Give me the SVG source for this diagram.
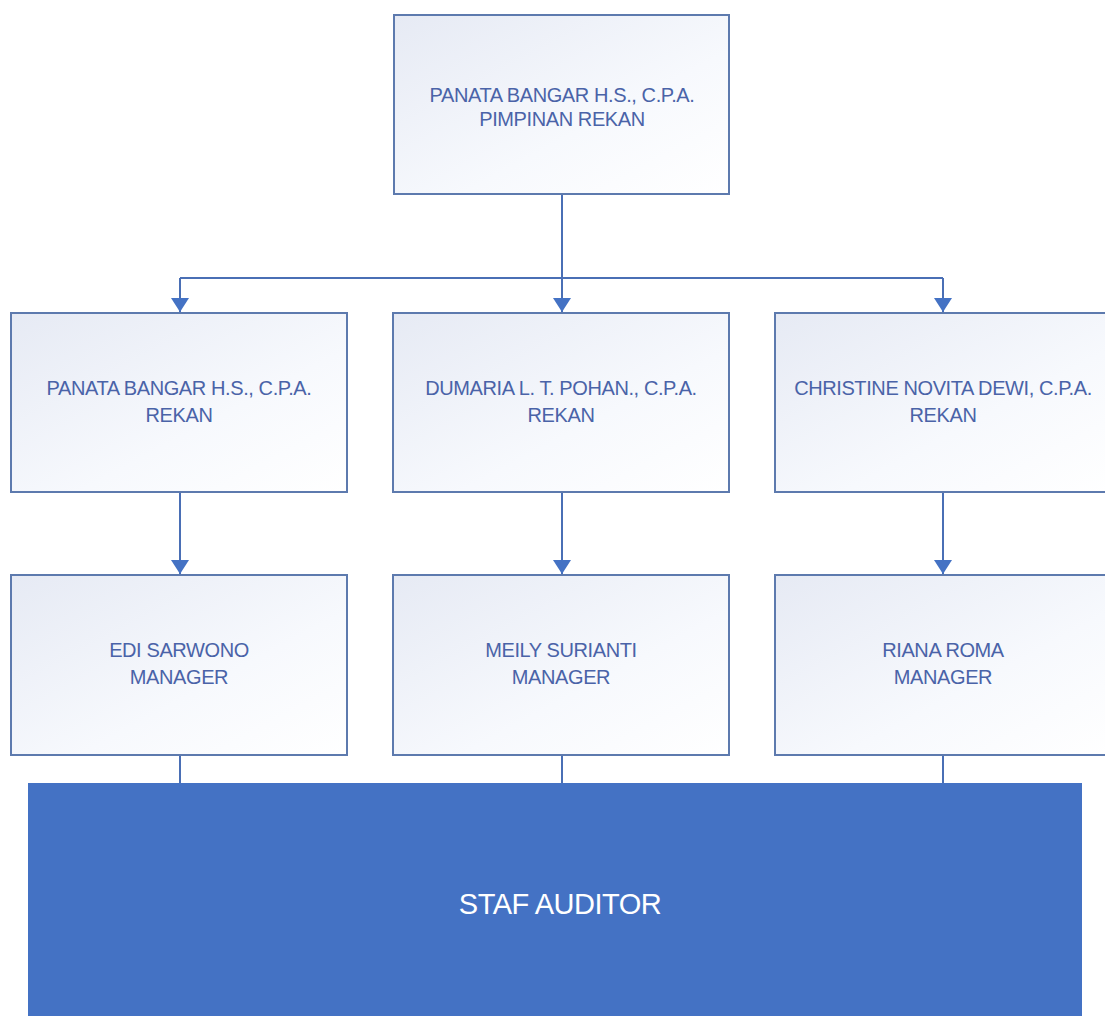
<svg xmlns="http://www.w3.org/2000/svg" width="1105" height="1016" viewBox="0 0 1105 1016">
<style>
.box{fill:url(#g);stroke:#5d7aae;stroke-width:2}
.t{font-family:"Liberation Sans",Arial,sans-serif;font-size:20px;letter-spacing:-0.4px;fill:#4a63a8;text-anchor:middle}
.c{fill:none;stroke:#4a6fb5;stroke-width:2}
</style>
<defs>
<linearGradient id="g" x1="0" y1="0" x2="1" y2="1">
<stop offset="0" stop-color="#e6eaf4"/>
<stop offset="0.6" stop-color="#f7f9fd"/>
<stop offset="1" stop-color="#ffffff"/>
</linearGradient>
<marker id="ah" markerWidth="14" markerHeight="18" refX="14" refY="9" orient="auto" markerUnits="userSpaceOnUse" viewBox="0 0 14 18">
<path d="M0,0 L14,9 L0,18 z" fill="#4472c4"/>
</marker>
</defs>
<rect width="1105" height="1016" fill="#ffffff"/>
<g id="connectors">
<path class="c" d="M562,194 V278"/>
<path class="c" d="M180,278 H943"/>
<path class="c" d="M180,278 V312" marker-end="url(#ah)"/>
<path class="c" d="M562,278 V312" marker-end="url(#ah)"/>
<path class="c" d="M943,278 V312" marker-end="url(#ah)"/>
<path class="c" d="M180,492 V574" marker-end="url(#ah)"/>
<path class="c" d="M562,492 V574" marker-end="url(#ah)"/>
<path class="c" d="M943,492 V574" marker-end="url(#ah)"/>
<path class="c" d="M180,755 V783" stroke-width="1.5"/>
<path class="c" d="M562,755 V783" stroke-width="1.5"/>
<path class="c" d="M943,755 V783" stroke-width="1.5"/>
</g>
<g id="n-top">
<rect class="box" x="394" y="15" width="335" height="179"/>
<text class="t" x="562" y="102">PANATA BANGAR H.S., C.P.A.</text>
<text class="t" x="562" y="126">PIMPINAN REKAN</text>
</g>
<g id="n-rekan1">
<rect class="box" x="11" y="313" width="336" height="179"/>
<text class="t" x="179" y="395">PANATA BANGAR H.S., C.P.A.</text>
<text class="t" x="179" y="422">REKAN</text>
</g>
<g id="n-rekan2">
<rect class="box" x="393" y="313" width="336" height="179"/>
<text class="t" x="561" y="395">DUMARIA L. T. POHAN., C.P.A.</text>
<text class="t" x="561" y="422">REKAN</text>
</g>
<g id="n-rekan3">
<rect class="box" x="775" y="313" width="336" height="179"/>
<text class="t" x="943" y="395">CHRISTINE NOVITA DEWI, C.P.A.</text>
<text class="t" x="943" y="422">REKAN</text>
</g>
<g id="n-mgr1">
<rect class="box" x="11" y="575" width="336" height="180"/>
<text class="t" x="179" y="657">EDI SARWONO</text>
<text class="t" x="179" y="684">MANAGER</text>
</g>
<g id="n-mgr2">
<rect class="box" x="393" y="575" width="336" height="180"/>
<text class="t" x="561" y="657">MEILY SURIANTI</text>
<text class="t" x="561" y="684">MANAGER</text>
</g>
<g id="n-mgr3">
<rect class="box" x="775" y="575" width="336" height="180"/>
<text class="t" x="943" y="657">RIANA ROMA</text>
<text class="t" x="943" y="684">MANAGER</text>
</g>
<g id="n-staf">
<rect x="28" y="783" width="1054" height="240" fill="#4472c4"/>
<text x="560" y="914" font-family="'Liberation Sans',Arial,sans-serif" font-size="29" letter-spacing="-0.5" fill="#ffffff" text-anchor="middle">STAF AUDITOR</text>
</g>
</svg>
